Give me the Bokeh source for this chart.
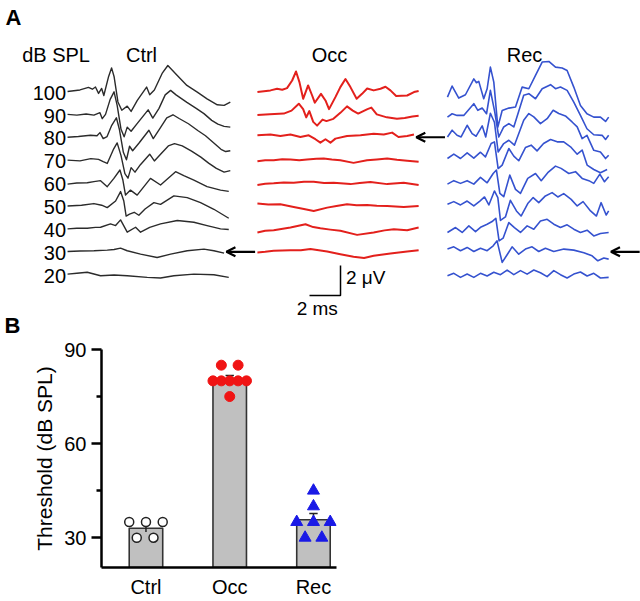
from bokeh.plotting import figure
from bokeh.models import Range1d, Arrow, OpenHead, FixedTicker
from bokeh.embed import file_html
from bokeh.resources import INLINE
from bokeh.core.properties import value

FONT = "Liberation Sans"

# ---------------- data: panel A (ABR traces, time in ms, amplitude in uV) -------------
LEVELS = [100, 90, 80, 70, 60, 50, 40, 30, 20]
CONDITIONS = ["Ctrl", "Occ", "Rec"]
THRESHOLD = {"Ctrl": 30, "Occ": 80, "Rec": 30}
SCALE_MS = 2
SCALE_UV = 2

CTRL_100 = [(0,0),(0.8,0.1),(1.35,0.27),(1.6,0.15),(1.8,0.3),(2.0,-0.13),(2.2,0.2),(2.34,-0.27),(2.65,1.0),(2.84,1.57),(3.0,1.0),(3.25,-0.7),(3.5,-1.25),(3.85,-0.98),(4.1,-1.33),(4.5,-0.6),(5.1,0.29),(5.3,-0.22),(5.6,0.1),(6.1,1.2),(6.47,1.73),(7.08,1.07),(7.7,0.4),(8.37,-0.04),(9.0,-0.49),(9.66,-0.89),(10.1,-0.93),(10.5,-0.71)]
CTRL_90 = [(0,0),(0.6,-0.05),(1.2,0.02),(1.7,-0.05),(2.09,0.11),(2.24,-0.29),(2.45,0.0),(2.75,1.0),(3.0,1.5),(3.2,0.6),(3.45,-1.0),(3.65,-1.5),(3.85,-0.85),(4.1,-1.13),(4.5,-0.6),(5.2,0.3),(5.5,-0.25),(5.9,0.4),(6.3,1.3),(6.65,1.6),(7.0,1.3),(7.7,0.8),(8.3,0.4),(8.8,0.05),(9.3,-0.4),(9.7,-0.65),(10.1,-0.8),(10.5,-0.85)]
CTRL_80 = [(0,0),(0.7,0.05),(1.48,0.13),(1.9,0.1),(2.09,0.31),(2.3,-0.09),(2.55,0.05),(2.85,0.8),(3.15,1.3),(3.35,0.5),(3.6,-1.0),(3.8,-1.5),(4.0,-0.6),(4.2,-0.9),(4.6,-0.4),(5.25,0.47),(5.53,-0.09),(5.9,0.5),(6.4,1.3),(6.8,1.5),(7.2,1.25),(7.8,0.9),(8.4,0.45),(8.9,0.1),(9.4,-0.35),(9.9,-0.8),(10.2,-0.95),(10.5,-0.9)]
CTRL_70 = [(0,0),(0.8,-0.05),(1.5,0.1),(2.0,0.05),(2.3,-0.1),(2.56,-0.22),(2.95,0.7),(3.2,1.15),(3.45,0.3),(3.7,-0.9),(3.9,-1.2),(4.1,-0.5),(4.35,-0.8),(4.7,-0.3),(5.3,0.4),(5.6,-0.05),(6.0,0.4),(6.5,0.95),(6.9,1.1),(7.4,0.95),(8.0,0.6),(8.6,0.2),(9.1,-0.2),(9.6,-0.55),(10.1,-0.8),(10.5,-0.7)]
CTRL_60 = [(0,-0.07),(0.6,0.0),(1.27,0.02),(1.7,0.1),(2.13,0.16),(2.56,-0.24),(2.99,0.31),(3.38,0.87),(3.57,0.2),(3.74,-0.8),(4.06,-0.47),(4.49,-0.8),(5.35,0.31),(6.0,-0.13),(6.97,0.76),(7.5,0.5),(8.15,0.2),(9.0,-0.24),(9.87,-0.47),(10.4,-0.55)]
CTRL_50 = [(0,0),(0.9,0.05),(1.7,0.16),(2.2,0.05),(2.56,-0.11),(3.1,0.33),(3.42,0.96),(3.63,0.33),(3.78,-0.67),(4.0,-0.55),(4.3,-0.42),(4.6,-0.62),(5.0,-0.2),(5.57,0.22),(6.0,0.11),(6.86,0.67),(7.72,0.56),(8.58,0.22),(9.44,-0.22),(10.4,-0.82)]
CTRL_40 = [(0,0),(0.6,0.04),(1.27,0.04),(1.8,0.1),(2.13,0.11),(2.77,0.33),(3.1,0.22),(3.42,0.6),(3.85,-0.22),(4.39,0.11),(4.71,-0.22),(5.3,0.1),(6.0,0.33),(7.08,0.56),(8.15,0.44),(9.0,0.22),(9.87,0.0),(10.4,-0.04)]
CTRL_30 = [(0,0.02),(0.8,0.05),(1.7,0.07),(2.56,0.11),(3.0,0.15),(3.42,0.24),(3.85,0.07),(4.71,-0.16),(5.78,-0.38),(6.65,-0.16),(7.72,0.07),(8.8,0.18),(9.44,0.07),(10.1,-0.09)]
CTRL_20 = [(0,0.04),(0.6,0.1),(1.27,0.16),(2.13,-0.07),(3.0,-0.02),(3.85,-0.07),(5.14,-0.18),(6.0,-0.22),(6.86,-0.07),(8.15,0.04),(9.44,0.0),(10.4,-0.18)]

OCC_100 = [(0,-0.04),(0.84,0.07),(1.27,0.18),(1.6,0.11),(1.91,0.22),(2.24,0.73),(2.49,1.33),(2.71,0.62),(2.95,-0.49),(3.27,0.4),(3.53,-0.27),(3.7,-0.75),(4.1,-0.16),(4.39,-0.6),(4.62,-1.18),(5.03,-0.38),(5.35,0.29),(5.68,0.83),(6.0,0.29),(6.4,-0.49),(6.75,-0.16),(7.08,0.2),(7.5,0.07),(7.94,0.18),(8.26,0.31),(8.58,0.07),(8.95,-0.3),(9.66,-0.27),(10.1,-0.04),(10.4,0.03)]
OCC_90 = [(0,-0.05),(0.8,0),(1.7,0.05),(2.2,0.25),(2.67,0.71),(2.95,0.35),(3.15,-0.2),(3.35,0.22),(3.6,-0.5),(3.85,-0.75),(4.2,-0.35),(4.45,-0.45),(4.9,-0.3),(5.35,0.1),(5.78,0.53),(6.15,0.25),(6.5,0.05),(7.1,0.35),(7.35,0.45),(7.7,0.0),(8.35,-0.2),(9.0,-0.3),(9.5,-0.25),(10.0,-0.15),(10.4,-0.1)]
OCC_80 = [(0,0.13),(0.84,0.18),(1.48,0.09),(2.13,0.18),(2.77,0.02),(3.31,0.13),(3.74,-0.13),(4.06,-0.36),(4.39,-0.13),(4.71,-0.36),(5.03,-0.09),(5.78,0.09),(6.65,0.13),(7.5,0.24),(8.15,0.18),(8.69,0.31),(9.1,0.02),(9.66,0.09),(10.1,0.18)]
OCC_70 = [(0,-0.07),(0.5,0.0),(1.05,0.0),(1.6,0.06),(2.13,0.04),(2.7,0.0),(3.2,0.04),(3.8,0.1),(4.28,0.11),(4.8,0.05),(5.35,0),(6.2,-0.18),(7.07,0),(7.7,0.05),(8.37,0.11),(9.0,0.02),(9.66,-0.04),(10.4,-0.11)]
OCC_60 = [(0,-0.13),(0.5,-0.05),(1.05,-0.02),(1.7,0.04),(2.34,0.02),(3.0,0.08),(3.63,0.09),(4.3,0.0),(4.92,0.02),(6.0,-0.07),(6.6,0.0),(7.29,0.07),(8.37,-0.07),(9.44,0.02),(10.4,-0.13)]
OCC_50 = [(0,0.16),(0.7,0.1),(1.48,0.11),(2.34,-0.07),(3.0,-0.2),(3.63,-0.33),(4.5,-0.11),(5.1,0.0),(5.78,0.11),(6.4,0.05),(7.07,0.07),(7.7,0.02),(8.37,0),(9.44,-0.07),(10.4,0)]
OCC_40 = [(0,-0.24),(0.5,-0.12),(1.05,-0.09),(2.13,0.09),(3.1,0.31),(3.6,0.12),(4.06,0.04),(4.7,-0.05),(5.35,-0.13),(6.43,-0.4),(7.5,-0.24),(8.2,-0.1),(8.8,-0.02),(9.66,-0.09),(10.4,0.09)]
OCC_30 = [(0,-0.04),(0.5,0.0),(1.05,0.07),(2.13,0.11),(2.8,0.1),(3.42,0.18),(4.5,0.02),(5.35,-0.16),(6.2,-0.33),(6.88,-0.42),(7.5,-0.27),(8.58,-0.11),(9.66,0.02),(10.4,0.11)]

REC_100 = [(0,-0.38),(0.3,0.36),(0.73,-0.44),(1.16,-0.22),(1.7,0.84),(1.87,0.58),(2.02,0.67),(2.34,-0.49),(2.56,0.18),(2.77,1.62),(2.99,0.62),(3.25,-2.38),(3.53,-1.27),(3.96,-1.11),(4.39,-1.04),(4.82,0.29),(5.25,0.18),(5.68,1.07),(6.11,1.96),(6.54,2.0),(6.97,1.62),(7.4,1.56),(7.72,1.4),(8.15,0.29),(8.58,-0.93),(9.0,-1.49),(9.44,-1.71),(9.87,-1.71),(10.2,-2.0),(10.4,-1.71)]
REC_90 = [(0,-0.18),(0.3,0.04),(0.62,-0.07),(1.05,-0.07),(1.7,0.71),(1.96,0.27),(2.24,0.42),(2.52,0.04),(2.77,1.6),(3.05,0.16),(3.31,-1.51),(3.63,-0.84),(3.96,-0.62),(4.28,-0.84),(4.92,1.27),(5.25,1.38),(5.68,1.04),(6.11,1.71),(6.65,1.98),(6.97,1.71),(7.29,1.82),(7.72,1.6),(8.15,0.82),(8.58,-0.07),(9.0,-0.96),(9.44,-1.36),(9.98,-1.4),(10.2,-1.67),(10.4,-1.4)]
REC_80 = [(0,0.02),(0.3,0.47),(0.62,0.13),(0.88,0.02),(1.27,0.8),(1.59,0.24),(1.85,0.07),(2.24,0.76),(2.47,0.02),(2.77,1.6),(3.03,1.0),(3.27,-0.98),(3.63,-0.42),(3.96,-0.2),(4.32,-0.53),(4.92,1.13),(5.25,1.58),(5.57,1.36),(6.0,0.91),(6.43,1.24),(6.82,1.8),(7.18,1.58),(7.61,1.42),(8.04,1.02),(8.37,0.69),(8.69,-0.09),(9.0,0.13),(9.44,-0.87),(9.87,-0.98),(10.2,-1.42),(10.4,-1.2)]
REC_70 = [(0,0.11),(0.41,0.4),(0.84,0.11),(1.27,0.49),(1.7,0.13),(2.13,0.53),(2.45,0.22),(2.82,1.11),(3.03,1.22),(3.27,-0.56),(3.53,-0.33),(3.96,0.78),(4.28,0.27),(4.6,-0.04),(5.03,0.84),(5.4,1.0),(5.78,0.62),(6.2,1.11),(6.65,1.38),(7.08,1.22),(7.5,1.22),(7.94,0.89),(8.37,0.4),(8.69,0.67),(9.01,-0.33),(9.44,-0.62),(9.87,-0.84),(10.3,-0.62)]
REC_60 = [(0,-0.07),(0.41,0.16),(0.84,-0.02),(1.27,0.16),(1.7,-0.07),(2.13,0.38),(2.56,0.02),(2.95,0.64),(3.16,0.87),(3.38,-0.69),(3.63,-0.91),(4.02,0.53),(4.39,-0.42),(4.71,-0.69),(5.18,0.31),(5.68,0.64),(6.05,0.16),(6.47,0.69),(6.97,1.13),(7.33,0.98),(7.83,0.64),(8.26,0.76),(8.69,0.31),(9.12,0.16),(9.44,-0.02),(9.83,0.6),(10.13,0.09),(10.4,0.42)]
REC_50 = [(0,0.11),(0.41,0.29),(0.84,0.07),(1.27,0.33),(1.7,0),(2.09,0.33),(2.39,0.6),(2.67,0.07),(3.03,1.0),(3.25,0.56),(3.42,-0.96),(3.74,-0.73),(4.06,0.38),(4.45,-0.33),(4.75,-0.67),(5.18,0.16),(5.53,0.56),(5.89,0.22),(6.32,0.67),(6.75,0.89),(7.12,0.6),(7.5,0.82),(7.98,0.44),(8.37,0),(8.75,0.29),(9.23,-0.33),(9.61,-0.67),(9.91,0.22),(10.24,-0.6),(10.4,-0.33)]
REC_40 = [(0,-0.24),(0.52,0.09),(0.95,-0.24),(1.38,0.2),(1.81,-0.18),(2.17,0.13),(2.56,0.31),(2.88,0.49),(3.12,0.71),(3.33,-0.8),(3.59,-0.62),(3.96,0.42),(4.32,0.09),(4.71,-0.24),(5.14,0.2),(5.57,-0.02),(6.0,0.53),(6.43,0.64),(6.86,0.31),(7.29,0.09),(7.72,0.27),(8.15,-0.02),(8.58,-0.24),(9.01,-0.09),(9.44,-0.47),(9.87,-0.31),(10.4,-0.24)]
REC_30 = [(0,0.18),(0.41,0.33),(0.84,0.07),(1.27,0.29),(1.7,0.02),(2.13,0.24),(2.56,0.07),(2.95,0.4),(3.2,0.73),(3.53,-0.71),(3.85,-0.2),(4.17,0.33),(4.6,-0.16),(5.03,0.18),(5.46,0.33),(5.89,0.02),(6.32,0.24),(6.86,0.02),(7.51,0.18),(8.15,0.11),(8.8,-0.07),(9.33,-0.27),(9.7,-0.6),(10.09,-0.42),(10.4,-0.49)]
REC_20 = [(0,-0.07),(0.41,0.09),(0.84,-0.18),(1.27,0.04),(1.7,-0.18),(2.13,0.09),(2.56,-0.09),(2.99,0.16),(3.42,0),(3.85,0.31),(4.28,0),(4.71,0.27),(5.14,0.04),(5.57,0.31),(6.0,0.13),(6.43,-0.13),(6.86,0.27),(7.29,0),(7.72,-0.22),(8.15,0.04),(8.58,0.18),(9.01,-0.09),(9.44,0.09),(9.87,-0.22),(10.4,-0.18)]

TRACES = {
    "Ctrl": [CTRL_100, CTRL_90, CTRL_80, CTRL_70, CTRL_60, CTRL_50, CTRL_40, CTRL_30, CTRL_20],
    "Occ": [OCC_100, OCC_90, OCC_80, OCC_70, OCC_60, OCC_50, OCC_40, OCC_30],
    "Rec": [REC_100, REC_90, REC_80, REC_70, REC_60, REC_50, REC_40, REC_30, REC_20],
}

# ---------------- data: panel B (thresholds, dB SPL) ----------------
GROUPS = ["Ctrl", "Occ", "Rec"]
MEANS = [33.0, 80.6, 35.7]
SEMS = [1.2, 1.1, 2.0]
CTRL_PTS = [35, 35, 35, 30, 30]
OCC_PTS = [85, 85, 80, 80, 80, 80, 80, 75]
REC_PTS = [45, 40, 35, 35, 35, 30, 30]

# ---------------- layout / style ----------------
PX_PER_MS = 15.5
PX_PER_UV = 15.0
A_W, A_H = 640, 338
PAD = 8  # page offset of the drawing origin
X0 = {"Ctrl": 3.81, "Occ": 16.06, "Rec": 28.32}
ROW0 = -5.53
ROW_STEP = 1.527
COLORS = {"Ctrl": "#2b2b2b", "Occ": "#e3201c", "Rec": "#3552cf"}
WIDTHS = {"Ctrl": 1.4, "Occ": 2.0, "Rec": 1.6}
TITLE_X = {"Ctrl": 8.58, "Occ": 20.71, "Rec": 33.29}

pa = figure(width=A_W, height=A_H,
            x_range=Range1d(-PAD / PX_PER_MS, (A_W - PAD) / PX_PER_MS),
            y_range=Range1d(-(A_H - PAD) / PX_PER_UV, PAD / PX_PER_UV),
            x_axis_location=None, y_axis_location=None,
            toolbar_location=None, output_backend="svg", min_border=0)
pa.grid.visible = False
pa.outline_line_color = None

for cond in CONDITIONS:
    for i, tr in enumerate(TRACES[cond]):
        base = ROW0 - ROW_STEP * i
        xs = [X0[cond] + t for t, v in tr]
        ys = [base + v for t, v in tr]
        pa.line(xs, ys, line_color=COLORS[cond], line_width=WIDTHS[cond], line_join="round")
    # threshold arrow
    idx = LEVELS.index(THRESHOLD[cond])
    tr = TRACES[cond][idx]
    xe = X0[cond] + tr[-1][0] + 0.15
    yb = ROW0 - ROW_STEP * idx
    pa.add_layout(Arrow(end=OpenHead(size=9, line_width=2.2, line_color="black"),
                        x_start=xe + 1.85, y_start=yb, x_end=xe, y_end=yb,
                        line_width=2.2, line_color="black"))

# level labels
pa.text(x=[X0["Ctrl"] - 0.1] * len(LEVELS), y=[ROW0 - ROW_STEP * i - 0.08 for i in range(len(LEVELS))],
        text=[str(l) for l in LEVELS], text_font=value(FONT), text_font_size="20px",
        text_align="right", text_baseline="middle", text_color="black")
# column titles
pa.text(x=[TITLE_X[c] for c in CONDITIONS], y=[-3.07] * 3, text=CONDITIONS,
        text_font=value(FONT), text_font_size="20px", text_align="center",
        text_baseline="middle", text_color="black")
pa.text(x=[0.88], y=[-3.07], text=["dB SPL"], text_font=value(FONT), text_font_size="20px",
        text_align="left", text_baseline="middle", text_color="black")

# scale bar
cx, cy = 21.42, -19.13
pa.line([cx - SCALE_MS, cx, cx], [cy, cy, cy + SCALE_UV], line_color="black", line_width=1.5)
pa.text(x=[cx + 0.35], y=[cy + SCALE_UV * 0.6], text=["%d \u03bcV" % SCALE_UV], text_font=value(FONT),
        text_font_size="19px", text_align="left", text_baseline="middle", text_color="black")
pa.text(x=[cx - 1.5], y=[cy - 0.15], text=["%d ms" % SCALE_MS], text_font=value(FONT),
        text_font_size="19px", text_align="center", text_baseline="top", text_color="black")

# panel letters (both live in the top figure's coordinate space)
pa.text(x=[-3 / PX_PER_MS], y=[4 / PX_PER_UV], text=["A"], text_font=value(FONT),
        text_font_size="22px", text_font_style="bold", text_baseline="top", text_align="left",
        text_color="black")
pa.text(x=[-4 / PX_PER_MS], y=[-(337 - PAD) / PX_PER_UV], text=["B"], text_font=value(FONT),
        text_font_size="22px", text_font_style="bold", text_baseline="bottom", text_align="left",
        text_color="black")

# ---------------- panel B ----------------
B_W, B_H = 640, 262
BL, BR, BT, BB = 101, 304, 11, 32
XMIN, XMAX = 0.469, 3.275
YMIN, YMAX = 20.5, 90
pb = figure(width=B_W, height=B_H, x_range=Range1d(XMIN, XMAX), y_range=Range1d(YMIN, YMAX),
            toolbar_location=None, output_backend="svg",
            min_border_left=BL, min_border_right=BR, min_border_top=BT, min_border_bottom=BB)
pb.grid.visible = False
pb.outline_line_color = None

XPOS = [1, 2, 3]
pb.vbar(x=XPOS, top=MEANS, bottom=YMIN, width=0.4, fill_color="#c0c0c0",
        line_color="#333333", line_width=1.6)
lo = [m - s for m, s in zip(MEANS, SEMS)]
hi = [m + s for m, s in zip(MEANS, SEMS)]
pb.segment(x0=XPOS, y0=lo, x1=XPOS, y1=hi, line_color="#222222", line_width=1.5)
pb.segment(x0=[x - 0.05 for x in XPOS], y0=hi, x1=[x + 0.05 for x in XPOS], y1=hi,
           line_color="#222222", line_width=1.5)

CTRL_DX = [-0.2, 0, 0.2, -0.11, 0.09]
OCC_DX = [-0.1, 0.1, -0.2, -0.1, 0, 0.1, 0.2, 0]
REC_DX = [0, 0, -0.2, 0, 0.2, -0.1, 0.1]
pb.scatter([1 + d for d in CTRL_DX], CTRL_PTS, marker="circle", size=9,
           fill_color="white", line_color="#222222", line_width=1.5)
pb.scatter([2 + d for d in OCC_DX], OCC_PTS, marker="circle", size=10,
           fill_color="#f01414", line_color="#f01414", line_width=1)
pb.scatter([3 + d for d in REC_DX], REC_PTS, marker="triangle", size=12,
           fill_color="#1a1ae6", line_color="#1a1ae6", line_width=1)

yax = pb.yaxis[0]
yax.ticker = FixedTicker(ticks=[30, 60, 90], minor_ticks=[45, 75])
yax.axis_label = "Threshold (dB SPL)"
yax.axis_label_text_font = FONT
yax.axis_label_text_font_size = "21px"
yax.axis_label_text_font_style = "normal"
yax.axis_label_text_color = "black"
yax.axis_label_standoff = 5
yax.major_label_text_font = FONT
yax.major_label_text_font_size = "20px"
yax.major_label_standoff = 5
yax.major_tick_in = 0
yax.major_tick_out = 10
yax.minor_tick_in = 0
yax.minor_tick_out = 5
for ax in (pb.yaxis[0], pb.xaxis[0]):
    ax.axis_line_width = 2.5
    ax.axis_line_color = "black"
    ax.major_tick_line_width = 2.5
    ax.minor_tick_line_width = 2.5
    ax.major_tick_line_color = "black"
    ax.minor_tick_line_color = "black"
    ax.major_label_text_color = "black"
xax = pb.xaxis[0]
xax.ticker = FixedTicker(ticks=XPOS, minor_ticks=[])
xax.major_label_overrides = {x: g for x, g in zip(XPOS, GROUPS)}
xax.major_label_text_font = FONT
xax.major_label_text_font_size = "20px"
xax.major_tick_in = 0
xax.major_tick_out = 0
xax.minor_tick_out = 0
xax.major_label_standoff = 8

open("out.html", "w").write(file_html([pa, pb], INLINE))
